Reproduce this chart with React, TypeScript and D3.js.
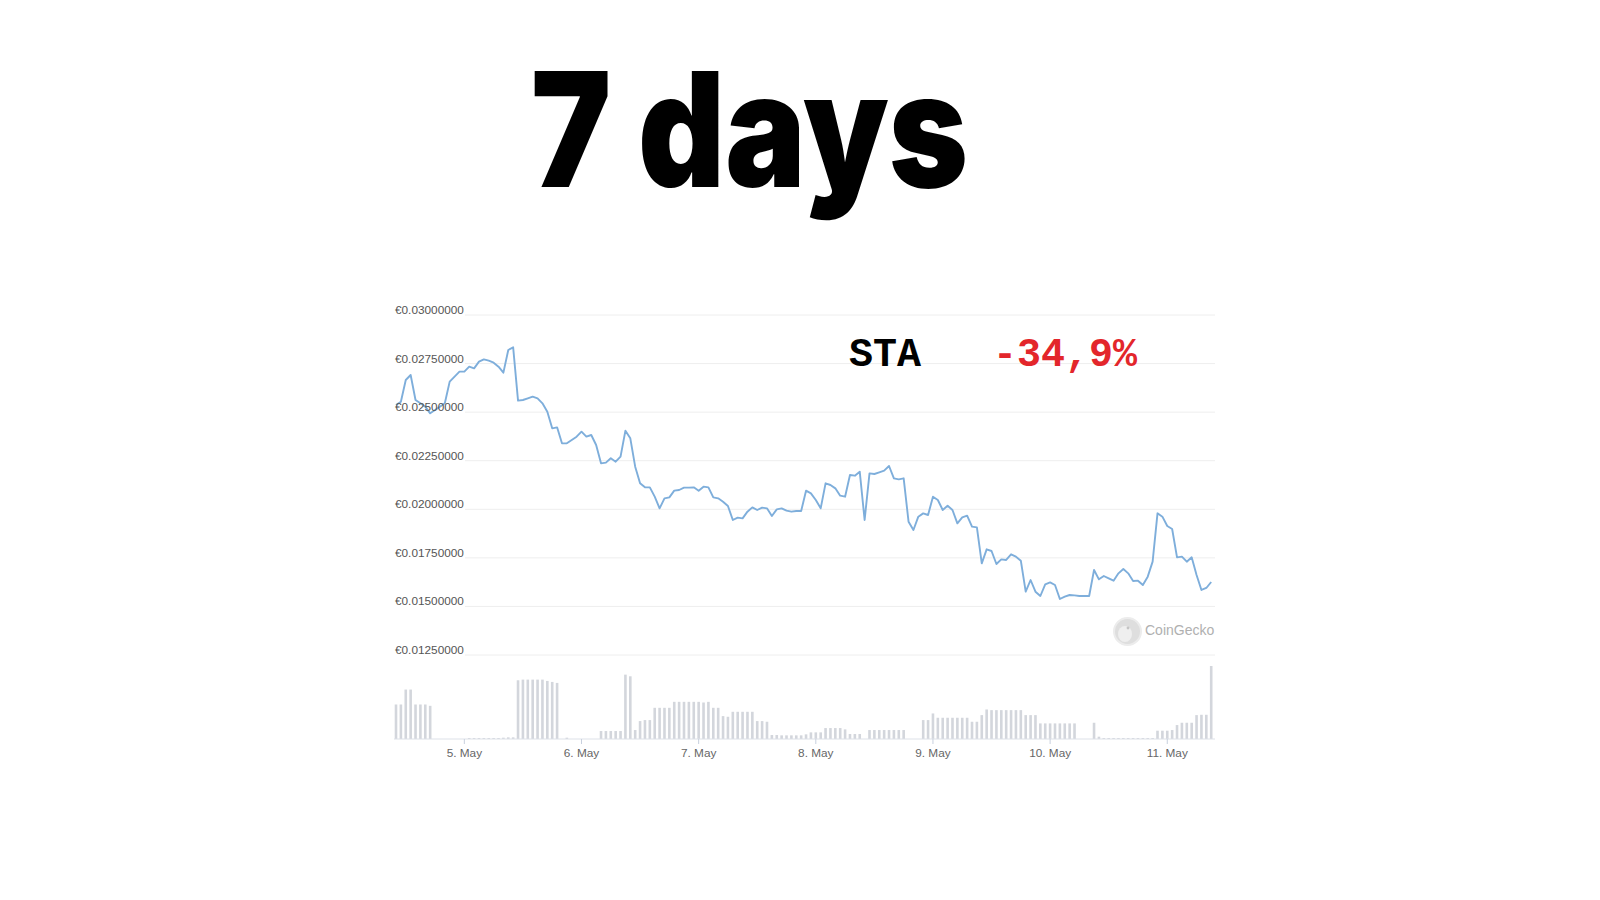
import * as d3 from 'd3';
import React from 'react';

// hourly samples, first one at 4 May 10:00 (UTC)
const startTime = new Date(Date.UTC(2021, 4, 4, 10));

const priceValues = [
  // 4 May 10:00 - 23:00
  0.025368, 0.025539, 0.026655, 0.026912, 0.025625, 0.025454, 0.025282,
  0.024939, 0.02511, 0.025282, 0.025454, 0.026569, 0.026826, 0.027083,
  // 5 May
  0.027083, 0.027341, 0.027255, 0.027598, 0.027718, 0.02765, 0.027547, 0.027341,
  0.027032, 0.028199, 0.028336, 0.025591, 0.025625, 0.025711, 0.025797, 0.025711,
  0.025454, 0.025024, 0.024167, 0.024218, 0.023395, 0.023395, 0.023566, 0.023738,
  // 6 May
  0.023995, 0.023738, 0.023823, 0.023309, 0.022365, 0.0224, 0.022623, 0.022451,
  0.022708, 0.024047, 0.023652, 0.022194, 0.021336, 0.02113, 0.02113, 0.02065,
  0.020049, 0.020564, 0.020615, 0.020958, 0.020992, 0.021113, 0.021113, 0.02113,
  // 7 May
  0.020958, 0.021164, 0.02113, 0.020615, 0.020564, 0.020392, 0.020169, 0.019448,
  0.019569, 0.019534, 0.019877, 0.0201, 0.019963, 0.020083, 0.020049, 0.019654,
  0.019997, 0.020049, 0.019929, 0.019877, 0.019912, 0.019912, 0.020958, 0.020821,
  // 8 May
  0.020478, 0.020049, 0.021336, 0.02125, 0.021078, 0.020701, 0.020649, 0.021765,
  0.02173, 0.021936, 0.019448, 0.02185, 0.021816, 0.021902, 0.021987, 0.022228,
  0.021593, 0.021541, 0.021593, 0.019362, 0.018934, 0.01962, 0.019791, 0.019706,
  // 9 May
  0.020649, 0.020478, 0.019963, 0.020186, 0.019963, 0.019277, 0.019586, 0.019671,
  0.019105, 0.019071, 0.017218, 0.017939, 0.017853, 0.017184, 0.017424, 0.01739,
  0.017681, 0.017561, 0.017355, 0.015759, 0.01636, 0.015759, 0.015537, 0.016137,
  // 10 May
  0.01624, 0.016103, 0.015382, 0.015502, 0.015588, 0.015571, 0.015537, 0.015537,
  0.015537, 0.016875, 0.016395, 0.016566, 0.016446, 0.016326, 0.016703, 0.016926,
  0.016703, 0.016309, 0.016326, 0.016103, 0.016532, 0.017304, 0.019792, 0.01962,
  // 11 May 00:00 - 09:00
  0.01914, 0.018985, 0.017527, 0.017561, 0.017304, 0.017527, 0.016618, 0.015846,
  0.015949, 0.016258,
];

// relative hourly volume (no axis in the picture)
const volumeValues = [
  // 4 May 10:00 - 23:00
  104, 104, 149, 149, 104, 104, 104, 100, 0, 0, 0, 0, 0, 0,
  // 5 May
  0, 3, 3, 3, 3, 3, 3, 3, 4, 5, 5, 177, 179, 179, 179, 179, 179, 175, 172, 169, 0, 4, 0, 0,
  // 6 May
  0, 0, 0, 0, 24, 24, 24, 24, 24, 194, 189, 27, 54, 57, 57, 94, 94, 94, 94, 112, 112, 112, 112, 112,
  // 7 May
  112, 110, 112, 94, 94, 69, 67, 82, 82, 82, 82, 82, 54, 54, 52, 12, 12, 11, 11, 11, 11, 11, 14, 20,
  // 8 May
  20, 20, 33, 33, 33, 33, 29, 15, 15, 15, 0, 27, 27, 27, 27, 27, 27, 27, 27, 0, 0, 0, 57, 57,
  // 9 May
  77, 64, 64, 64, 64, 64, 64, 64, 52, 52, 72, 89, 87, 87, 87, 87, 87, 87, 87, 72, 72, 72, 47, 47,
  // 10 May
  47, 47, 47, 47, 47, 47, 0, 0, 0, 49, 7, 3, 3, 3, 3, 3, 3, 3, 3, 3, 3, 3, 25, 25,
  // 11 May 00:00 - 09:00
  25, 27, 42, 49, 49, 49, 72, 73, 73, 220,
];

const priceTicks = [0.0125, 0.015, 0.0175, 0.02, 0.0225, 0.025, 0.0275, 0.03];
const dayLabels = ['5. May', '6. May', '7. May', '8. May', '9. May', '10. May', '11. May'];

const title = '7 days';
const coinName = 'STA';
const coinChange = '-34,9%';

export default function App() {
  const width = 1600;
  const height = 900;

  const times = priceValues.map((_, i) => d3.utcHour.offset(startTime, i));
  const endTime = times[times.length - 1];

  const x = d3.scaleUtc().domain([startTime, endTime]).range([396, 1211.2]);
  const y = d3.scaleLinear().domain([0.0125, 0.03]).range([655, 315]);
  const yVol = d3.scaleLinear().domain([0, 220]).range([739, 666]);

  const days = d3.utcDay.range(d3.utcDay.ceil(startTime), endTime);

  const line = d3
    .line<number>()
    .x((_, i) => x(times[i]))
    .y((d) => y(d));

  const labelFont = '"Liberation Sans", Arial, sans-serif';

  return (
    <div style={{ position: 'absolute', left: 0, top: 0, width, height, background: '#fff' }}>
      <svg width={width} height={height} style={{ display: 'block' }}>
        <rect width={width} height={height} fill='#ffffff' />

        <text
          x={531}
          y={187}
          textLength={437}
          lengthAdjust='spacingAndGlyphs'
          fontFamily='Inter, "DejaVu Sans", sans-serif'
          fontWeight={900}
          fontSize={160}
          fill='#000'
        >
          {title}
        </text>

        {priceTicks.map((t) => (
          <line key={t} x1={465} x2={1215} y1={y(t)} y2={y(t)} stroke='#eeeeee' strokeWidth={1} />
        ))}

        {volumeValues.map((v, i) => (
          <rect
            key={i}
            x={x(times[i]) - 1.3}
            y={yVol(v)}
            width={2.6}
            height={yVol(0) - yVol(v)}
            fill='#d3d6dc'
          />
        ))}

        <line x1={394} x2={1215} y1={yVol(0)} y2={yVol(0)} stroke='#dde1e8' strokeWidth={1} />
        {days.map((d, i) => (
          <g key={i}>
            <line x1={x(d)} x2={x(d)} y1={yVol(0)} y2={yVol(0) + 5} stroke='#c8d0de' strokeWidth={1} />
            <text
              x={x(d)}
              y={757}
              textAnchor='middle'
              fontFamily={labelFont}
              fontSize={11.8}
              fill='#666'
            >
              {dayLabels[i]}
            </text>
          </g>
        ))}

        <path d={line(priceValues) ?? ''} fill='none' stroke='#7eaedb' strokeWidth={1.9} strokeLinejoin='round' />

        {priceTicks.map((t) => (
          <text key={t} x={395} y={y(t) - 1} fontFamily={labelFont} fontSize={11.8} fill='#555'>
            {'€' + t.toFixed(8)}
          </text>
        ))}

        <g>
          <circle cx={1127.5} cy={631.5} r={13.5} fill='#dedede' stroke='#ececec' strokeWidth={2} />
          <ellipse cx={1125} cy={634} rx={7} ry={8} fill='#efefef' />
          <circle cx={1128} cy={628} r={1.4} fill='#c4c4c4' />
          <text x={1145} y={635} fontFamily={labelFont} fontSize={14} fill='#b0b0b0'>
            CoinGecko
          </text>
        </g>

        <text
          x={849}
          y={366}
          fontFamily='"Liberation Mono", "Courier New", monospace'
          fontWeight={700}
          fontSize={40}
          fill='#000'
        >
          {coinName}
        </text>
        <text
          x={993}
          y={366}
          fontFamily='"Liberation Mono", "Courier New", monospace'
          fontWeight={700}
          fontSize={40}
          fill='#e3262b'
        >
          {coinChange}
        </text>
      </svg>
    </div>
  );
}
